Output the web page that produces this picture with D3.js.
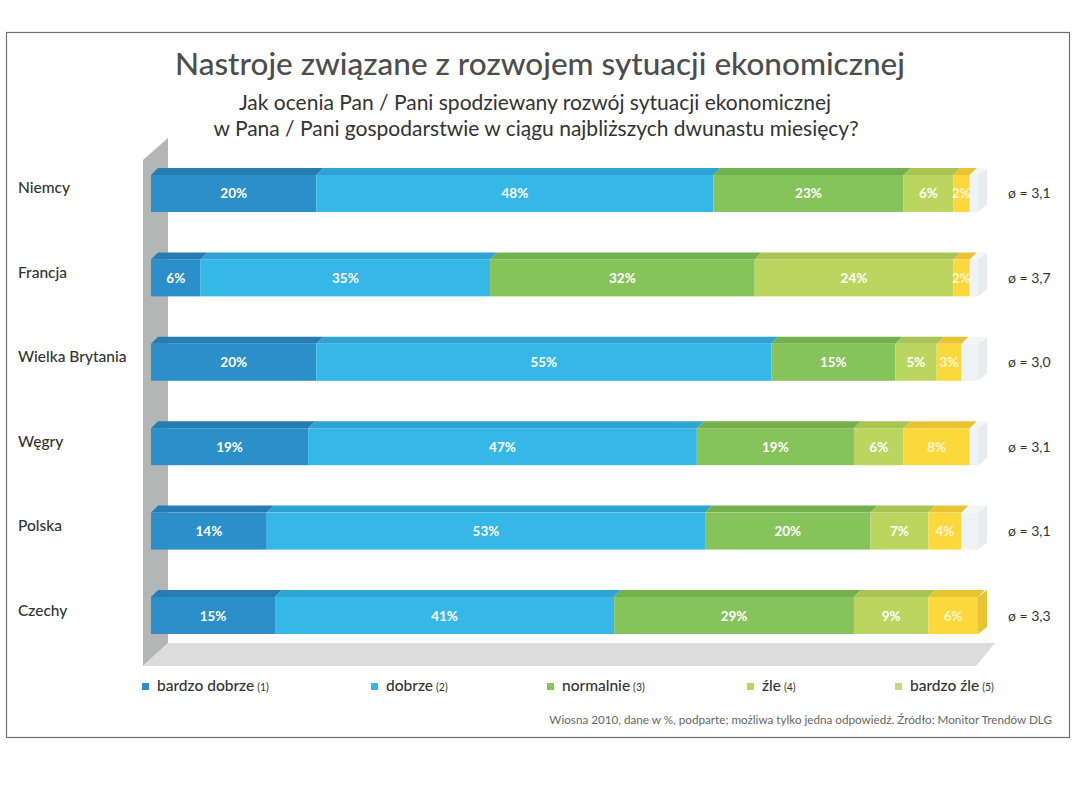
<!DOCTYPE html>
<html>
<head>
<meta charset="utf-8">
<script src="https://cdn.jsdelivr.net/npm/d3@7"></script>
<style>
  html, body { margin: 0; padding: 0; background: #fff; }
  svg { display: block; }
  text { font-family: Lato, "Open Sans", sans-serif; }
</style>
</head>
<body>
<svg id="chart" width="1080" height="810"></svg>
<script>
// ---- data ----
const countries = ["Niemcy", "Francja", "Wielka Brytania", "Węgry", "Polska", "Czechy"];
const bardzoDobrze = [20, 6, 20, 19, 14, 15];
const dobrze = [48, 35, 55, 47, 53, 41];
const normalnie = [23, 32, 15, 19, 20, 29];
const zle = [6, 24, 5, 6, 7, 9];
const bardzoZle = [2, 2, 3, 8, 4, 6];
const averages = ["3,1", "3,7", "3,0", "3,1", "3,1", "3,3"];
const seriesNames = ["bardzo dobrze", "dobrze", "normalnie", "źle", "bardzo źle"];
const seriesCodes = ["(1)", "(2)", "(3)", "(4)", "(5)"];
const title = "Nastroje związane z rozwojem sytuacji ekonomicznej";
const subtitle1 = "Jak ocenia Pan / Pani spodziewany rozwój sytuacji ekonomicznej";
const subtitle2 = "w Pana / Pani gospodarstwie w ciągu najbliższych dwunastu miesięcy?";
const footnote = "Wiosna 2010, dane w %, podparte; możliwa tylko jedna odpowiedź. Źródło: Monitor Trendów DLG";

// ---- styles ----
const colors = ["#2b8fca", "#35b7e8", "#86c45b", "#bbd65e", "#fbd93d"];
const topColors = ["#257db3", "#2ea3d4", "#74b14d", "#a8c452", "#e8c434"];
const legendColors = ["#2b8fca", "#35b7e8", "#86c45b", "#bbd65e", "#c4d97a"];
const labelOpacity = [1, 1, 1, 1, 0.75];
const depth = 7;

const svg = d3.select("#chart");

// frame
svg.append("rect").attr("x", 6.5).attr("y", 32.5).attr("width", 1063).attr("height", 705)
  .attr("fill", "none").attr("stroke", "#6f6f6f").attr("stroke-width", 1.2);

// titles
svg.append("text").attr("x", 540).attr("y", 75).attr("text-anchor", "middle")
  .attr("font-size", 31.5).attr("fill", "#4d4d4d").attr("font-weight", 500).text(title);
svg.append("text").attr("x", 535).attr("y", 110).attr("text-anchor", "middle")
  .attr("font-size", 21).attr("fill", "#333").text(subtitle1);
svg.append("text").attr("x", 536).attr("y", 136).attr("text-anchor", "middle")
  .attr("font-size", 21).attr("fill", "#333").text(subtitle2);

// scales
const x = d3.scaleLinear().domain([0, 100]).range([151, 978]);
const y = d3.scaleBand().domain(countries).range([175, 634]).paddingInner(0.562).paddingOuter(0);
const bw = y.bandwidth();

// back wall & floor
const wallX0 = 143, wallX1 = 168;
const floorTop = 643, floorBot = 666;
svg.append("path")
  .attr("d", `M${wallX0},160 L${wallX1},138 L${wallX1},${floorTop} L${wallX0},${floorBot} Z`)
  .attr("fill", "#b4b6b6");
svg.append("path")
  .attr("d", `M${wallX1},${floorTop} L${x(100) + 17},${floorTop} L${x(100) - 2},${floorBot} L${wallX0},${floorBot} Z`)
  .attr("fill", "#dcdcdc");

// stacked data
const table = countries.map((c, i) => ({
  country: c,
  values: [bardzoDobrze[i], dobrze[i], normalnie[i], zle[i], bardzoZle[i]],
  avg: averages[i]
}));

const rows = svg.selectAll("g.row").data(table).join("g").attr("class", "row");

rows.each(function(d) {
  const g = d3.select(this);
  const y0 = y(d.country);
  let cum = 0;
  const segs = d.values.map((v, k) => { const s = { k, v, a: cum, b: cum + v }; cum += v; return s; });
  const total = cum;
  // remainder (pale)
  if (total < 100) {
    g.append("rect").attr("x", x(total)).attr("y", y0).attr("width", x(100) - x(total)).attr("height", bw)
      .attr("fill", "#eef3f5");
    g.append("path")
      .attr("d", `M${x(total)},${y0} L${x(total) + depth},${y0 - depth} L${x(100) + depth},${y0 - depth} L${x(100)},${y0} Z`)
      .attr("fill", "#f3f5f6");
  }
  // end side face
  const endColor = total < 100 ? "#e6ecef" : topColors[4];
  g.append("path")
    .attr("d", `M${x(100)},${y0} L${x(100) + depth + 2},${y0 - depth} L${x(100) + depth + 2},${y0 + bw - depth} L${x(100)},${y0 + bw} Z`)
    .attr("fill", endColor);
  // top faces
  g.selectAll("path.top").data(segs).join("path").attr("class", "top")
    .attr("d", s => `M${x(s.a)},${y0} L${x(s.a) + depth},${y0 - depth} L${x(s.b) + depth},${y0 - depth} L${x(s.b)},${y0} Z`)
    .attr("fill", s => topColors[s.k]);
  // front faces
  g.selectAll("rect.seg").data(segs).join("rect").attr("class", "seg")
    .attr("x", s => x(s.a)).attr("y", y0).attr("width", s => x(s.b) - x(s.a)).attr("height", bw)
    .attr("fill", s => colors[s.k]);
  // labels
  g.selectAll("text.val").data(segs).join("text").attr("class", "val")
    .attr("x", s => (x(s.a) + x(s.b)) / 2).attr("y", y0 + bw / 2 + 5)
    .attr("text-anchor", "middle").attr("font-size", 13.5).attr("font-weight", 700)
    .attr("fill", "#fff").attr("fill-opacity", s => labelOpacity[s.k])
    .text(s => s.v + "%");
  // country label
  g.append("text").attr("x", 18).attr("y", y0 + bw / 2)
    .attr("font-size", 15.5).attr("fill", "#333").attr("font-weight", 500).text(d.country);
  // average
  g.append("text").attr("x", 1008).attr("y", y0 + bw / 2 + 5)
    .attr("font-size", 14).attr("fill", "#333").text("ø = " + d.avg);
});

// legend
const legendX = [142, 371, 547, 747, 895];
const lg = svg.selectAll("g.legend").data(seriesNames).join("g").attr("class", "legend")
  .attr("transform", (d, i) => `translate(${legendX[i]},691)`);
lg.append("rect").attr("x", 0).attr("y", -8).attr("width", 7).attr("height", 7)
  .attr("fill", (d, i) => legendColors[i]);
const lt = lg.append("text").attr("x", 15).attr("y", 0).attr("fill", "#333");
lt.append("tspan").attr("font-size", 15.5).attr("font-weight", 500).text(d => d);
lt.append("tspan").attr("font-size", 10.5).attr("dx", 3).text((d, i) => seriesCodes[i]);

// footnote
svg.append("text").attr("x", 1052).attr("y", 724).attr("text-anchor", "end")
  .attr("font-size", 11.7).attr("fill", "#666").text(footnote);
</script>
</body>
</html>
